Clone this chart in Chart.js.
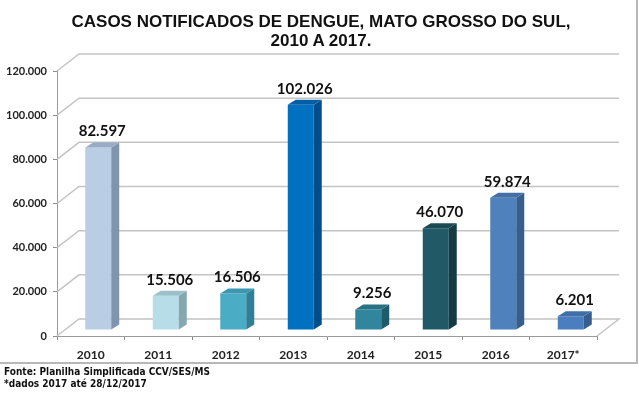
<!DOCTYPE html>
<html><head><meta charset="utf-8">
<script src="https://cdn.jsdelivr.net/npm/chart.js@4/dist/chart.umd.min.js"></script>
<style>
html,body{margin:0;padding:0;background:#fff;}
#wrap{position:relative;width:639px;height:396px;overflow:hidden;background:#fff;}
canvas{position:absolute;left:0;top:0;}
#title{position:absolute;left:0;width:642px;top:12px;text-align:center;font:bold 17px "Liberation Sans",Arial,sans-serif;line-height:19px;color:#111;}
#foot{position:absolute;left:4px;top:366px;font:bold 10px "DejaVu Sans Condensed","DejaVu Sans",sans-serif;line-height:12px;color:#111;}
#frameR{position:absolute;left:636px;top:0;width:2px;height:364px;background:#b8b8b8;}
#frameB{position:absolute;left:0;top:362px;width:638px;height:2px;background:#b8b8b8;}
</style></head>
<body><div id="wrap">
<canvas id="c" width="639" height="396"></canvas>
<div id="title">CASOS NOTIFICADOS DE DENGUE, MATO GROSSO DO SUL,<br>2010 A 2017.</div>
<div id="frameR"></div><div id="frameB"></div>
<div id="foot">Fonte: Planilha Simplificada CCV/SES/MS<br>*dados 2017 até 28/12/2017</div>
</div>
<script>
// ---- data ----
const years = ['2010','2011','2012','2013','2014','2015','2016','2017*'];
const cases = [82597, 15506, 16506, 102026, 9256, 46070, 59874, 6201];
const yTicks = [0, 20000, 40000, 60000, 80000, 100000, 120000];
const frontColors = ['#b9cde5','#b7dde8','#4bacc6','#0070c0','#31859c','#215967','#4f81bd','#4a7ebf'];
const sideColors  = ['#8194ad','#86a6b0','#2f7f96','#004f8a','#1f5b6b','#143a44','#375e8f','#355d90'];
const topColors   = ['#98acc6','#9cc0ca','#3c97b0','#005fa5','#287184','#1a4a56','#4270a6','#3f6ea8'];

// ---- geometry of the 3D look (styles, not data) ----
const WALL_DX = 22, WALL_DY = 17;   // back wall offset
const BAR_DX = 7.5, BAR_DY = -6;    // bars sit mid-depth
const DEP_DX = 8, DEP_DY = 5;       // bar depth

function fmt(v){ return String(v).replace(/\B(?=(\d{3})+(?!\d))/g, '.'); }

const threeD = {
  id: 'threeD',
  beforeDatasetsDraw(chart){
    const {ctx, chartArea: a, scales: {y}} = chart;
    ctx.save();
    ctx.strokeStyle = '#c4c4c4';
    ctx.lineWidth = 1.5;
    yTicks.forEach(v => {
      const py = y.getPixelForValue(v);
      ctx.beginPath();
      ctx.moveTo(a.left, py);
      ctx.lineTo(a.left + WALL_DX, py - WALL_DY);
      ctx.lineTo(a.right + WALL_DX, py - WALL_DY);
      if (v === 0) ctx.lineTo(a.right, py);
      ctx.stroke();
    });
    ctx.restore();
    ctx.save();
    ctx.translate(BAR_DX, BAR_DY);
  },
  afterDatasetsDraw(chart){
    const ctx = chart.ctx;
    const meta = chart.getDatasetMeta(0);
    meta.data.forEach((bar, i) => {
      const l = bar.x - bar.width / 2, r = bar.x + bar.width / 2;
      const t = bar.y, b = bar.base;
      ctx.fillStyle = sideColors[i];
      ctx.beginPath();
      ctx.moveTo(r, t); ctx.lineTo(r + DEP_DX, t - DEP_DY);
      ctx.lineTo(r + DEP_DX, b - DEP_DY); ctx.lineTo(r, b);
      ctx.closePath(); ctx.fill();
      ctx.fillStyle = topColors[i];
      ctx.beginPath();
      ctx.moveTo(l, t); ctx.lineTo(r, t);
      ctx.lineTo(r + DEP_DX, t - DEP_DY); ctx.lineTo(l + DEP_DX, t - DEP_DY);
      ctx.closePath(); ctx.fill();
    });
    ctx.restore();
    ctx.save();
    ctx.font = 'bold 15px Lato, "Open Sans", sans-serif';
    ctx.fillStyle = '#111';
    ctx.textAlign = 'center';
    ctx.textBaseline = 'middle';
    meta.data.forEach((bar, i) => {
      ctx.fillText(fmt(cases[i]), bar.x + BAR_DX + 4, bar.y + BAR_DY - 16);
    });
    ctx.restore();
  }
};

new Chart(document.getElementById('c'), {
  type: 'bar',
  data: {
    labels: years,
    datasets: [{
      data: cases,
      backgroundColor: frontColors,
      borderWidth: 0,
      barPercentage: 0.385,
      categoryPercentage: 1
    }]
  },
  options: {
    responsive: false,
    animation: false,
    layout: {padding: {top: 71, right: 42, bottom: 0, left: 0}},
    plugins: {legend: {display: false}, tooltip: {enabled: false}, title: {display: false}},
    scales: {
      x: {
        grid: {drawOnChartArea: false, tickLength: 4, color: '#8c8c8c', offset: true},
        border: {color: '#9a9a9a', width: 1},
        ticks: {font: {family: 'Lato', weight: 'bold', size: 12}, color: '#222', padding: 8},
        afterFit(s){ s.height = 60; }
      },
      y: {
        min: 0, max: 120000,
        ticks: {stepSize: 20000, callback: v => fmt(v), font: {family: 'Lato', weight: 'bold', size: 11}, color: '#222', padding: 6},
        grid: {drawOnChartArea: false, tickLength: 4, color: '#8c8c8c'},
        border: {color: '#9a9a9a', width: 1},
        afterFit(s){ s.width = 57; }
      }
    }
  },
  plugins: [threeD]
});
</script>
</body></html>
